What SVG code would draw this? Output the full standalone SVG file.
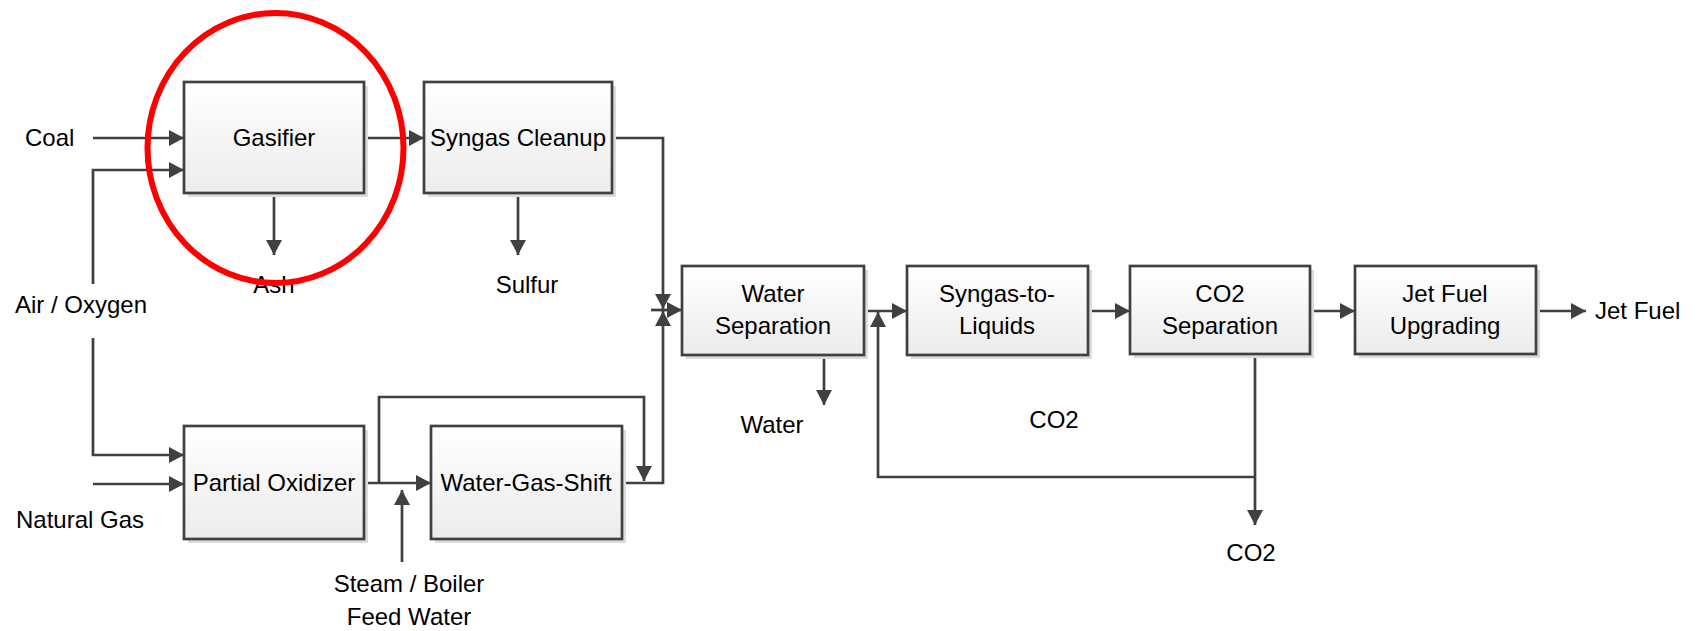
<svg xmlns="http://www.w3.org/2000/svg" width="1699" height="631" viewBox="0 0 1699 631">
<style>
.box{fill:url(#g);stroke:#404040;stroke-width:2.7}
.sh{fill:#dcdcdc}
.t{font-family:"Liberation Sans",Arial,sans-serif;font-size:24px;fill:#000}
.m{text-anchor:middle}
.c{fill:none;stroke:#404040;stroke-width:2.7;marker-end:url(#arr)}
</style>
<defs>
<linearGradient id="g" x1="0" y1="0" x2="0" y2="1">
<stop offset="0" stop-color="#ffffff"/>
<stop offset="1" stop-color="#ececec"/>
</linearGradient>
<marker id="arr" viewBox="0 0 15 16" refX="15" refY="8" markerWidth="15" markerHeight="16" orient="auto" markerUnits="userSpaceOnUse">
<path d="M0,0 L15,8 L0,16 z" fill="#404040"/>
</marker>
</defs>
<rect width="1699" height="631" fill="#fff"/>
<g id="connectors">
<path class="c" d="M93,138 H184"/>
<path class="c" d="M93,284 V170 H184"/>
<path class="c" d="M93,338 V455 H184"/>
<path class="c" d="M93,484 H184"/>
<path class="c" d="M364,138 H424"/>
<path class="c" d="M274,193 V255"/>
<path class="c" d="M518,193 V255"/>
<path class="c" d="M612,138 H663 V309"/>
<path class="c" d="M622,483 H663 V311"/>
<path class="c" d="M651,310 H682"/>
<path class="c" d="M364,483 H431"/>
<path class="c" d="M379,483 V397 H644 V481"/>
<path class="c" d="M402,562 V490"/>
<path class="c" d="M824,355 V405"/>
<path class="c" d="M864,311 H907"/>
<path class="c" d="M1088,311 H1130"/>
<path class="c" d="M1310,311 H1355"/>
<path class="c" d="M1536,311 H1586"/>
<path class="c" d="M1255,354 V525"/>
<path class="c" d="M1255,477 H878 V312"/>
</g>
<g id="gasifier">
<rect class="sh" x="188" y="86" width="180" height="111"/>
<rect class="box" x="184" y="82" width="180" height="111"/>
<text class="t m" x="274" y="146">Gasifier</text>
</g>
<g id="syngas-cleanup">
<rect class="sh" x="428" y="86" width="188" height="111"/>
<rect class="box" x="424" y="82" width="188" height="111"/>
<text class="t m" x="518" y="146">Syngas Cleanup</text>
</g>
<g id="partial-oxidizer">
<rect class="sh" x="188" y="430" width="180" height="113"/>
<rect class="box" x="184" y="426" width="180" height="113"/>
<text class="t m" x="274" y="491">Partial Oxidizer</text>
</g>
<g id="water-gas-shift">
<rect class="sh" x="435" y="430" width="191" height="113"/>
<rect class="box" x="431" y="426" width="191" height="113"/>
<text class="t m" x="526" y="491">Water-Gas-Shift</text>
</g>
<g id="water-separation">
<rect class="sh" x="686" y="270" width="182" height="89"/>
<rect class="box" x="682" y="266" width="182" height="89"/>
<text class="t m" x="773" y="302">Water</text>
<text class="t m" x="773" y="334">Separation</text>
</g>
<g id="syngas-to-liquids">
<rect class="sh" x="911" y="270" width="181" height="89"/>
<rect class="box" x="907" y="266" width="181" height="89"/>
<text class="t m" x="997" y="302">Syngas-to-</text>
<text class="t m" x="997" y="334">Liquids</text>
</g>
<g id="co2-separation">
<rect class="sh" x="1134" y="270" width="180" height="88"/>
<rect class="box" x="1130" y="266" width="180" height="88"/>
<text class="t m" x="1220" y="302">CO2</text>
<text class="t m" x="1220" y="334">Separation</text>
</g>
<g id="jet-fuel-upgrading">
<rect class="sh" x="1359" y="270" width="181" height="88"/>
<rect class="box" x="1355" y="266" width="181" height="88"/>
<text class="t m" x="1445" y="302">Jet Fuel</text>
<text class="t m" x="1445" y="334">Upgrading</text>
</g>
<g id="labels">
<text class="t" x="25" y="146">Coal</text>
<text class="t" x="15" y="313">Air / Oxygen</text>
<text class="t" x="16" y="528">Natural Gas</text>
<text class="t m" x="274" y="293">Ash</text>
<text class="t m" x="527" y="293">Sulfur</text>
<text class="t m" x="409" y="592">Steam / Boiler</text>
<text class="t m" x="409" y="625">Feed Water</text>
<text class="t m" x="772" y="433">Water</text>
<text class="t m" x="1054" y="428">CO2</text>
<text class="t m" x="1251" y="561">CO2</text>
<text class="t" x="1595" y="319">Jet Fuel</text>
</g>
<g id="highlight">
<ellipse cx="275.5" cy="148" rx="128" ry="135" fill="none" stroke="#ff0000" stroke-width="6"/>
</g>
</svg>
